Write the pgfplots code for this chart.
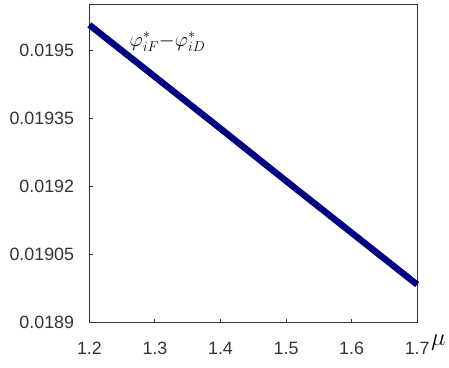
\documentclass[border=0pt]{standalone}
\usepackage{pgfplots}
\pgfplotsset{compat=1.18}
\usepackage{fontspec}
\setmainfont{Liberation Sans}
\begin{document}
\begin{tikzpicture}
\begin{axis}[
  scale only axis,
  width=330bp, height=320.5bp,
  xmin=1.2, xmax=1.7, ymin=0.0189, ymax=0.0196,
  xtick={1.2,1.3,1.4,1.5,1.6,1.7},
  ytick={0.0189,0.01905,0.0192,0.01935,0.0195},
  xticklabels={1.2,1.3,1.4,1.5,1.6,1.7},
  yticklabels={0.0189,0.01905,0.0192,0.01935,0.0195},
  xtick pos=left, ytick pos=left,
  tick align=inside,
  major tick length=4bp,
  axis line style={black!80, line width=0.9bp},
  every tick/.style={black!80, line width=0.9bp},
  ticklabel style={font=\fontsize{18}{20}\selectfont, text=black!80},
  xticklabel style={yshift=-16bp},
  yticklabel style={xshift=-12bp},
  scaled y ticks=false,
  clip=false,
]
\addplot[color={rgb,255:red,0;green,0;blue,128}, line width=6.5bp] coordinates {
  (1.2,0.019555) (1.3,0.019441) (1.4,0.019327) (1.5,0.019212) (1.6,0.019098) (1.7,0.018984)
};
\node[anchor=west, font=\fontsize{20}{22}\selectfont] at (axis cs:1.256,0.019518) {$\varphi^{*}_{iF}{-}\varphi^{*}_{iD}$};
\node[font=\fontsize{24}{26}\selectfont] at (axis cs:1.7325,0.018856) {$\mu$};
\end{axis}
\path (-90bp,-45bp) rectangle (359bp,325bp);
\end{tikzpicture}
\end{document}
